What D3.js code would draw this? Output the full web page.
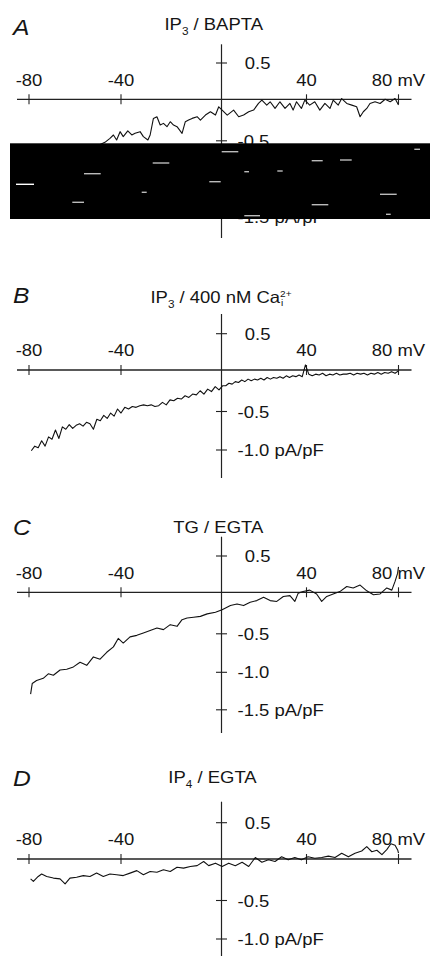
<!DOCTYPE html>
<html><head><meta charset="utf-8">
<script src="https://cdn.jsdelivr.net/npm/d3@7"></script>
<style>
body{margin:0;background:#fff}
svg{display:block}
text{font-family:"Liberation Sans",Arial,Helvetica,sans-serif;fill:#151515}
</style>
</head><body>
<svg id="c" width="430" height="956"></svg>
<script>
// ---------------- data ----------------
const xTickValues = [-80, -40, 40, 80];
const xTickLabels = ["-80", "-40", "40", "80 mV"];

const panelLetters = ["A", "B", "C", "D"];

const yTicksA = [0.5, -0.5, -1.0, -1.5];
const yLabelsA = ["0.5", "-0.5", "-1.0", "-1.5 pA/pF"];
const yTicksB = [0.5, -0.5, -1.0];
const yLabelsB = ["0.5", "-0.5", "-1.0 pA/pF"];
const yTicksC = [0.5, -0.5, -1.0, -1.5];
const yLabelsC = ["0.5", "-0.5", "-1.0", "-1.5 pA/pF"];
const yTicksD = [0.5, -0.5, -1.0];
const yLabelsD = ["0.5", "-0.5", "-1.0 pA/pF"];

// Panel A: IP3 / BAPTA  (mV, pA/pF)
const voltA = [-80,-77,-74,-71,-68,-65,-62,-59,-56,-53,-50,-47,
 -44.8,-43.3,-41.9,-40.4,-39.1,-37.3,-35.7,-34.4,-32.4,-31.1,
 -29.3,-28.4,-27.1,-25.7,-24.4,-23.1,-21.7,-20.4,-19.1,-17.7,
 -15.7,-14.4,-13.1,-11.7,-9.7,-8.4,-6.4,-4.4,-2.4,-1.1,
 0.3,2.7,5.7,8.1,10.4,12.8,15.1,17.4,19,21.3,
 22.9,25.2,27.5,29.9,32.2,33.7,35.3,37.6,39.2,41.4,
 43.6,45.8,48,50.2,51.6,53.8,55.3,57.5,59.7,61.8,
 63.3,64.7,66.2,67.6,69.8,72,74.2,76.4,78.5,80];
const currA = [-1.0,-0.95,-0.9,-0.88,-0.82,-0.8,-0.74,-0.7,-0.66,-0.6,-0.56,-0.52,
 -0.47,-0.43,-0.49,-0.39,-0.45,-0.38,-0.43,-0.41,-0.39,-0.45,
 -0.49,-0.43,-0.23,-0.21,-0.31,-0.29,-0.33,-0.27,-0.31,-0.33,
 -0.41,-0.27,-0.25,-0.23,-0.21,-0.25,-0.19,-0.15,-0.19,-0.09,
 -0.13,-0.19,-0.13,-0.21,-0.19,-0.15,-0.13,-0.05,-0.01,-0.07,
 -0.03,-0.11,-0.03,-0.11,-0.05,-0.13,-0.03,-0.11,-0.01,-0.07,
 -0.03,-0.13,-0.05,-0.11,-0.01,-0.07,0.01,-0.05,-0.07,-0.09,
 -0.21,-0.15,-0.11,-0.05,-0.03,-0.05,0,-0.03,0.01,-0.07];

// Panel B: IP3 / 400 nM Ca
const voltB = [-79,-77.5,-76,-74.5,-73,-71.5,-70,-68.5,-67,-65.5,
 -64,-62.5,-61,-59.5,-58,-56.5,-55,-53.5,-52,-50.5,
 -49,-47.5,-46,-44.5,-43,-41.5,-40,-38.5,-37,-35.5,
 -34,-32.5,-31,-29.5,-28,-26.5,-25,-23.5,-22,-20.5,
 -19,-17.5,-16,-14.5,-13,-11.5,-10,-8.5,-7,-5.5,
 -4,-2.5,-1,0.5,2,3.5,5,6.5,8,9.5,
 11,12.5,14,15.5,17,18.5,20,21.5,23,24.5,
 26,27.5,29,30.5,32,33.5,35,36.5,38,39.5,
 41,42.5,44,45.5,47,48.5,50,51.5,53,54.5,
 56,57.5,59,60.5,62,63.5,65,66.5,68,69.5,
 71,72.5,74,75.5,77,78.5,80];
const currB = [-1.01,-0.95,-0.97,-0.88,-0.95,-0.83,-0.86,-0.74,-0.85,-0.70,
 -0.73,-0.67,-0.72,-0.68,-0.66,-0.69,-0.64,-0.66,-0.73,-0.60,
 -0.62,-0.55,-0.59,-0.52,-0.56,-0.47,-0.52,-0.45,-0.47,-0.44,
 -0.45,-0.43,-0.42,-0.43,-0.42,-0.44,-0.43,-0.39,-0.42,-0.36,
 -0.37,-0.34,-0.35,-0.31,-0.33,-0.29,-0.30,-0.25,-0.29,-0.23,
 -0.26,-0.20,-0.24,-0.19,-0.19,-0.16,-0.17,-0.14,-0.15,-0.12,
 -0.14,-0.11,-0.13,-0.11,-0.12,-0.10,-0.12,-0.09,-0.11,-0.09,
 -0.10,-0.08,-0.10,-0.07,-0.09,-0.07,-0.08,-0.06,-0.08,0.07,
 -0.05,-0.07,-0.05,-0.06,-0.04,-0.07,-0.05,-0.06,-0.04,-0.06,
 -0.05,-0.05,-0.04,-0.06,-0.04,-0.05,-0.04,-0.06,-0.04,-0.05,
 -0.03,-0.05,-0.03,-0.04,-0.02,-0.04,-0.01];

// Panel C: TG / EGTA
const voltC = [-79.3,-78.6,-76.7,-73.8,-71.6,-69.4,-66.5,-63.6,-60.7,-57.8,
 -54.9,-52,-49.1,-46.2,-43.3,-41.2,-39.1,-36.4,-33.7,-31.1,
 -28.4,-25.7,-23.1,-20.4,-17.7,-15.7,-13.7,-11.1,-8.4,-5.7,
 -2.4,0.3,4.2,7.3,10.4,13.5,16.6,19.8,22.9,26,
 29.1,32.2,34.5,36.1,38.4,41.4,44.4,46.6,48.8,51.6,
 54.5,57.5,60.3,63.3,66.2,69.1,72,74.9,77.1,78.5,
 79.6,80];
const currC = [-1.29,-1.15,-1.11,-1.08,-1.02,-1.04,-0.97,-0.96,-0.93,-0.87,
 -0.91,-0.80,-0.83,-0.74,-0.67,-0.56,-0.62,-0.54,-0.52,-0.49,
 -0.46,-0.43,-0.45,-0.39,-0.41,-0.33,-0.31,-0.30,-0.29,-0.26,
 -0.24,-0.21,-0.16,-0.14,-0.16,-0.12,-0.10,-0.06,-0.10,-0.11,
 -0.05,-0.04,-0.11,-0.01,0.01,0.03,-0.02,-0.11,-0.05,-0.02,
 0.01,0.08,0.06,0.10,0.02,-0.03,-0.02,0.06,0.03,0.15,
 0.26,0.35];

// Panel D: IP4 / EGTA
const voltD = [-79.3,-78.1,-76,-74.5,-72.3,-69.4,-66.5,-64.3,-62.2,-59.3,
 -56.4,-53.5,-50.6,-47.7,-44.8,-41.9,-39.1,-36.4,-33.7,-31.1,
 -28.4,-25.7,-23.1,-20.4,-17.7,-15.1,-12.4,-9.7,-7.1,-5.1,
 -2.4,0.3,3.4,6.5,9.7,12.8,15.9,19,22.1,25.2,
 28.3,31.4,34.5,37.6,40.7,43.6,46.6,49.5,52.4,55.3,
 58.2,61.1,64,66.2,68.4,70.6,72.8,74.9,76.7,78.5,
 79.7,80];
const currD = [-0.24,-0.27,-0.21,-0.18,-0.21,-0.23,-0.24,-0.30,-0.23,-0.22,
 -0.20,-0.21,-0.17,-0.21,-0.18,-0.19,-0.20,-0.17,-0.14,-0.19,
 -0.15,-0.16,-0.13,-0.15,-0.10,-0.11,-0.09,-0.08,-0.03,-0.08,
 -0.05,-0.09,-0.05,-0.08,-0.04,-0.09,0.02,-0.04,-0.01,-0.03,
 0.03,-0.01,0.02,-0.01,0.03,0.01,0.02,0.04,0.02,0.08,
 0.03,0.08,0.11,0.17,0.10,0.12,0.06,0.13,0.21,0.19,
 0.12,0.08];

// ---------------- layout ----------------
const panels = [
  {letter:0, v:voltA, i:currA, ticks:yTicksA, labels:yLabelsA, y0:99.3, titleY:30, letterY:35, titleX:213.7, top:44.3, bottom:238},
  {letter:1, v:voltB, i:currB, ticks:yTicksB, labels:yLabelsB, y0:370, titleY:303.3, letterY:303.3, titleX:221, top:314, bottom:478},
  {letter:2, v:voltC, i:currC, ticks:yTicksC, labels:yLabelsC, y0:592.3, titleY:533.3, letterY:535, titleX:218.3, top:536.7, bottom:733},
  {letter:3, v:voltD, i:currD, ticks:yTicksD, labels:yLabelsD, y0:859, titleY:783.3, letterY:785.7, titleX:212.5, top:801.7, bottom:956}
];

const SX = 1.12;      // horizontal stretch of the scanned lettering
const FS = 16.5;

const svg = d3.select("#c");
const x = d3.scaleLinear().domain([-80,-40,0,40,80]).range([29,121,221.5,306.5,398.5]);

function txt(g, str, px, py, anchor, size, italic){
  return g.append("text")
    .attr("transform", `translate(${px},${py}) scale(${SX},1)`)
    .attr("text-anchor", anchor)
    .attr("font-size", size)
    .attr("font-style", italic ? "italic" : null)
    .text(str);
}

panels.forEach(p => {
  const g = svg.append("g");
  const y = d3.scaleLinear().domain([0.5,0,-0.5,-1,-1.5])
    .range([p.y0-36.3, p.y0, p.y0+41.5, p.y0+80, p.y0+117.5]);
  const x0 = x(0);

  // x axis
  g.append("line").attr("x1",17).attr("x2",411.5).attr("y1",p.y0).attr("y2",p.y0)
    .attr("stroke","#222").attr("stroke-width",1.3);
  xTickValues.forEach((t,k) => {
    g.append("line").attr("x1",x(t)).attr("x2",x(t)).attr("y1",p.y0-5).attr("y2",p.y0+5)
      .attr("stroke","#222").attr("stroke-width",1.1);
    txt(g, xTickLabels[k], x(t), p.y0-13.6, "middle", FS);
  });

  // y axis
  g.append("line").attr("x1",x0).attr("x2",x0).attr("y1",p.top).attr("y2",p.bottom)
    .attr("stroke","#222").attr("stroke-width",1.2);
  p.ticks.forEach((t,k) => {
    g.append("line").attr("x1",x0-5.5).attr("x2",x0+5.5).attr("y1",y(t)).attr("y2",y(t))
      .attr("stroke","#222").attr("stroke-width",1.1);
    txt(g, p.labels[k], x0 + (t > 0 ? 23.3 : 16), y(t)+6, "start", FS);
  });

  // trace
  const pts = p.v.map((v,k) => [v, p.i[k]]);
  g.append("path").datum(pts)
    .attr("fill","none").attr("stroke","#111").attr("stroke-width",1.1)
    .attr("stroke-linejoin","round")
    .attr("d", d3.line().x(d => x(d[0])).y(d => y(d[1])));

  // panel letter
  txt(g, panelLetters[p.letter], 13, p.letterY, "start", 22, true);
});

// titles
{
  const t = txt(svg, "", panels[0].titleX, panels[0].titleY, "middle", FS);
  t.append("tspan").text("IP");
  t.append("tspan").attr("font-size",10.5).attr("dy",5).text("3");
  t.append("tspan").attr("dy",-5).text(" / BAPTA");
}
{
  const t = txt(svg, "", panels[1].titleX, panels[1].titleY, "middle", FS);
  t.append("tspan").text("IP");
  t.append("tspan").attr("font-size",10.5).attr("dy",5).text("3");
  t.append("tspan").attr("dy",-5).text(" / 400 nM Ca");
  t.append("tspan").attr("font-size",9).attr("dy",-6.5).text("2+");
  t.append("tspan").attr("font-size",9).attr("dx",-9.5).attr("dy",9).text("i");
}
{
  txt(svg, "TG / EGTA", panels[2].titleX, panels[2].titleY, "middle", FS);
}
{
  const t = txt(svg, "", panels[3].titleX, panels[3].titleY, "middle", FS);
  t.append("tspan").text("IP");
  t.append("tspan").attr("font-size",10.5).attr("dy",5).text("4");
  t.append("tspan").attr("dy",-5).text(" / EGTA");
}

// ---------------- occluding black band seen over panel A ----------------
const band = {x:10, y:143.3, w:420, h:75.7};
const bandDashes = [
  [16,34,184.3,"#fff"],[84,100.7,173.7,"#bbb"],[72.3,84,202.3,"#bbb"],
  [152.7,169.3,163,"#bbb"],[141.7,146.7,192.3,"#bbb"],[209.3,220.7,181.7,"#bbb"],
  [221.7,238.3,151.7,"#bbb"],[244.3,249,171.7,"#bbb"],[244.3,260,215.7,"#bbb"],
  [277.3,282.7,171,"#bbb"],[311.7,322.7,160.7,"#bbb"],[311.7,328.3,204.7,"#bbb"],
  [340,351.7,160,"#bbb"],[380,396.7,194.3,"#bbb"],[386,390.7,214.3,"#bbb"],
  [414.3,420,149.3,"#bbb"]
];
svg.append("rect").attr("x",band.x).attr("y",band.y).attr("width",band.w).attr("height",band.h).attr("fill","#000");
bandDashes.forEach(d => {
  svg.append("rect").attr("x",d[0]).attr("y",d[2]-0.7).attr("width",d[1]-d[0]).attr("height",1.4).attr("fill",d[3]);
});
</script>
</body></html>
